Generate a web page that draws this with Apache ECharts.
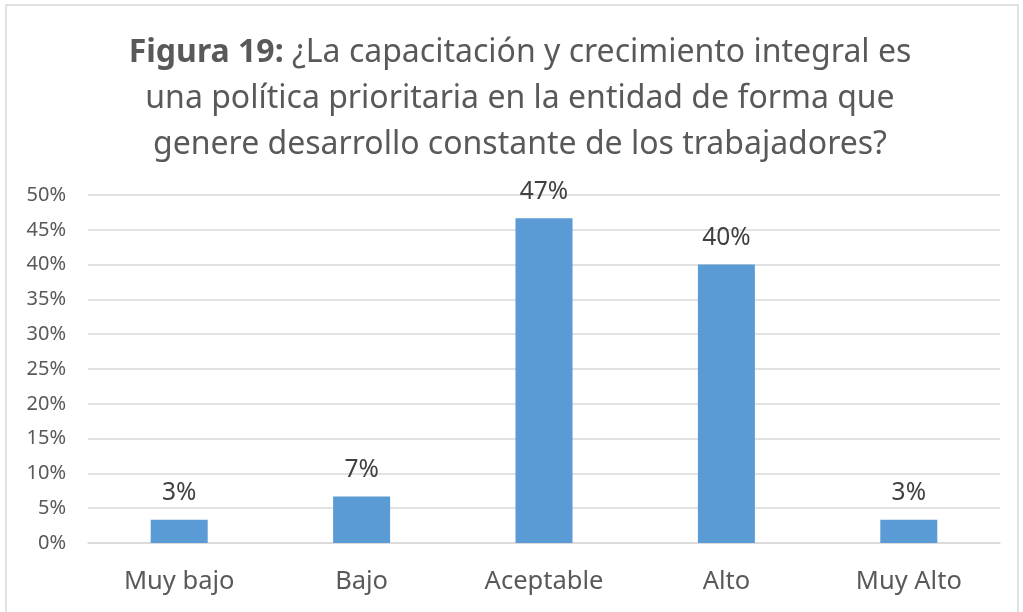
<!DOCTYPE html>
<html>
<head>
<meta charset="utf-8">
<script src="https://cdn.jsdelivr.net/npm/echarts@6/dist/echarts.min.js"></script>
<style>
  html, body { margin: 0; padding: 0; background: #fff; }
  #chart { width: 1023px; height: 612px; }
</style>
</head>
<body>
<div id="chart"></div>
<script>
// datos del gráfico
var categorias = ['Muy bajo', 'Bajo', 'Aceptable', 'Alto', 'Muy Alto'];
var porcentajes = [0.0333, 0.0667, 0.4667, 0.40, 0.0333];

var myChart = echarts.init(document.getElementById('chart'));

var fuente = 'Noto Sans';

var option = {
    textStyle: { fontFamily: fuente },
    graphic: [{
        type: 'rect',
        shape: { x: 6, y: 5, width: 1012, height: 620 },
        style: { fill: 'none', stroke: '#D9D9D9', lineWidth: 1.5 },
        silent: true
    }],
    title: {
        left: 515,
        top: 25,
        textAlign: 'center',
        text: '{b|Figura 19:} ¿La capacitación y crecimiento integral es\nuna política prioritaria en la entidad de forma que\ngenere desarrollo constante de los trabajadores?',
        textStyle: {
            fontFamily: fuente,
            fontSize: 32,
            fontWeight: 'normal',
            color: '#595959',
            lineHeight: 46,
            rich: {
                b: { fontFamily: fuente, fontSize: 32, fontWeight: 'bold', color: '#595959', lineHeight: 46 }
            }
        }
    },
    grid: { left: 88, right: 23, top: 195, bottom: 69 },
    xAxis: {
        type: 'category',
        data: categorias,
        axisLine: { lineStyle: { color: '#D9D9D9', width: 1.5 } },
        axisTick: { show: false },
        axisLabel: { color: '#595959', fontSize: 25.5, margin: 26 }
    },
    yAxis: {
        type: 'value',
        min: 0,
        max: 0.5,
        interval: 0.05,
        axisLine: { show: false },
        axisTick: { show: false },
        splitLine: { lineStyle: { color: '#D9D9D9', width: 1.5 } },
        axisLabel: {
            color: '#595959',
            fontSize: 20,
            margin: 22,
            formatter: function (v) { return Math.round(v * 100) + '%'; }
        }
    },
    series: [{
        type: 'bar',
        data: porcentajes,
        barWidth: 57,
        itemStyle: { color: '#5B9BD5' },
        label: {
            show: true,
            position: 'top',
            distance: 14,
            color: '#404040',
            fontSize: 24.5,
            formatter: function (p) { return Math.round(p.value * 100) + '%'; }
        }
    }]
};

myChart.setOption(option);
</script>
</body>
</html>
